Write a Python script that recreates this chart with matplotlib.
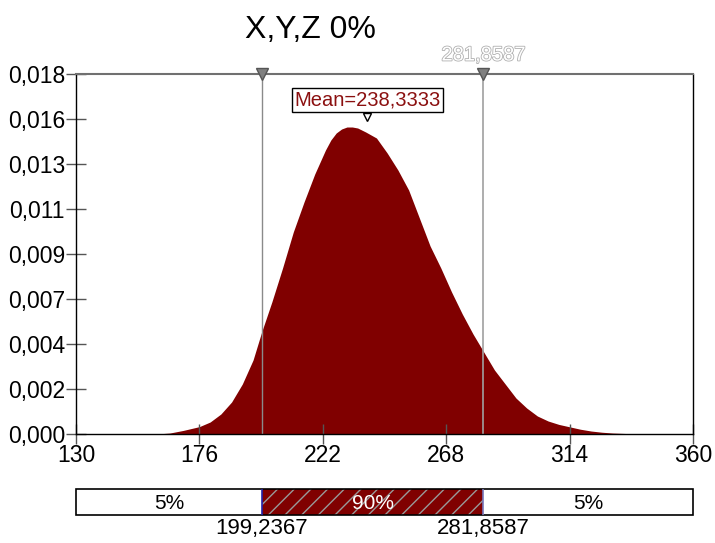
import matplotlib.pyplot as plt
import matplotlib.patheffects as pe
from matplotlib.patches import Rectangle

plt.rcParams['font.family'] = ['Liberation Sans', 'DejaVu Sans']

# density curve
x_vals = [160, 165, 170, 176, 180, 184, 188, 192, 196, 199.2, 203, 207, 211, 215,
          219, 223, 225, 227, 229, 231, 233, 235, 238, 242, 246, 250, 254, 258,
          262, 266, 270, 274, 278, 282, 286, 290, 294, 298, 302, 306, 310, 314,
          318, 322, 326, 330, 336, 340]
density = [0, 0.00005, 0.00018, 0.00037, 0.0006, 0.001, 0.0016, 0.0025, 0.0037,
           0.0051, 0.0066, 0.0083, 0.0101, 0.0116, 0.0130, 0.0142, 0.0147, 0.01505,
           0.01525, 0.01535, 0.01535, 0.0153, 0.0151, 0.0148, 0.01405, 0.0132,
           0.0122, 0.0108, 0.0094, 0.0083, 0.0071, 0.0060, 0.0050, 0.0041, 0.0032,
           0.0025, 0.0018, 0.0013, 0.0009, 0.00065, 0.00048, 0.00036, 0.00024,
           0.00015, 0.00009, 0.00005, 0.00002, 0]

x_ticks = [130, 176, 222, 268, 314, 360]
y_ticks = [0, 0.00225, 0.0045, 0.00675, 0.009, 0.01125, 0.0135, 0.01575, 0.018]
y_tick_labels = ['0,000', '0,002', '0,004', '0,007', '0,009', '0,011', '0,013',
                 '0,016', '0,018']

mean_val = 238.3333
p5 = 199.2367
p95 = 281.8587
pct_labels = ['5%', '90%', '5%']

maroon = '#800000'

fig = plt.figure(figsize=(7.15, 5.43), dpi=100)
ax = fig.add_axes([0.1063, 0.2007, 0.8629, 0.663])

ax.fill_between(x_vals, density, 0, color=maroon, lw=0)
ax.axvline(p5, color='#8a8a8a', lw=1)
ax.axvline(p95, color='#a0a0a0', lw=1.2)

ax.set_xlim(130, 360)
ax.set_ylim(0, 0.018)
ax.set_xticks(x_ticks)
ax.set_xticklabels([str(t) for t in x_ticks])
ax.set_yticks(y_ticks)
ax.set_yticklabels(y_tick_labels)
ax.tick_params(direction='inout', length=14, width=1, color='#555555',
               labelsize=16.5, pad=1)
ax.tick_params(axis='x', pad=0)

for s in ['left', 'bottom', 'right']:
    ax.spines[s].set_color('black')
    ax.spines[s].set_linewidth(1)
ax.spines['top'].set_color('#707070')
ax.spines['top'].set_linewidth(1.5)

# markers on top edge
ax.plot([p5, p95], [0.018, 0.018], 'v', ms=9, color='#808080',
        markeredgecolor='#555555', clip_on=False, zorder=5)
ax.text(p95, 0.01895, '281,8587', ha='center', va='center', fontsize=14.5,
        color='white', path_effects=[pe.withStroke(linewidth=1.2, foreground='#b0b0b0')])

# mean label
ax.text(mean_val + 0.5, 0.01668, 'Mean=238,3333', ha='center', va='center',
        fontsize=14.5, color='#8b1010',
        bbox=dict(boxstyle='square,pad=0.12', fc='white', ec='black', lw=1))
ax.plot([mean_val], [0.01585], 'v', ms=6, mfc='white', mec='black', mew=1,
        zorder=5)

fig.text(0.434, 0.944, 'X,Y,Z 0%', ha='center', va='center', fontsize=23)

# percentile bar
bx = fig.add_axes([0.1063, 0.0516, 0.8629, 0.0479])
bx.set_xlim(130, 360)
bx.set_ylim(0, 1)
bx.axis('off')
bx.add_patch(Rectangle((p5, 0), p95 - p5, 1, fc=maroon, ec='#999999',
                       hatch='//', lw=0))
bx.add_patch(Rectangle((130, 0), 230, 1, fill=False, ec='black', lw=1.2,
                       clip_on=False))
bx.plot([p5, p5], [0, 1], color='#2222aa', lw=1.2)
bx.plot([p95, p95], [0, 1], color='#7777bb', lw=1.2)
bx.text((130 + p5) / 2, 0.45, pct_labels[0], ha='center', va='center', fontsize=15)
bx.text((p5 + p95) / 2, 0.45, pct_labels[1], ha='center', va='center', fontsize=15,
        color='white')
bx.text((p95 + 360) / 2, 0.45, pct_labels[2], ha='center', va='center', fontsize=15)
bx.text(p5, -0.1, '199,2367', ha='center', va='top', fontsize=16)
bx.text(p95, -0.1, '281,8587', ha='center', va='top', fontsize=16)

fig.savefig('out.png', dpi=100)
